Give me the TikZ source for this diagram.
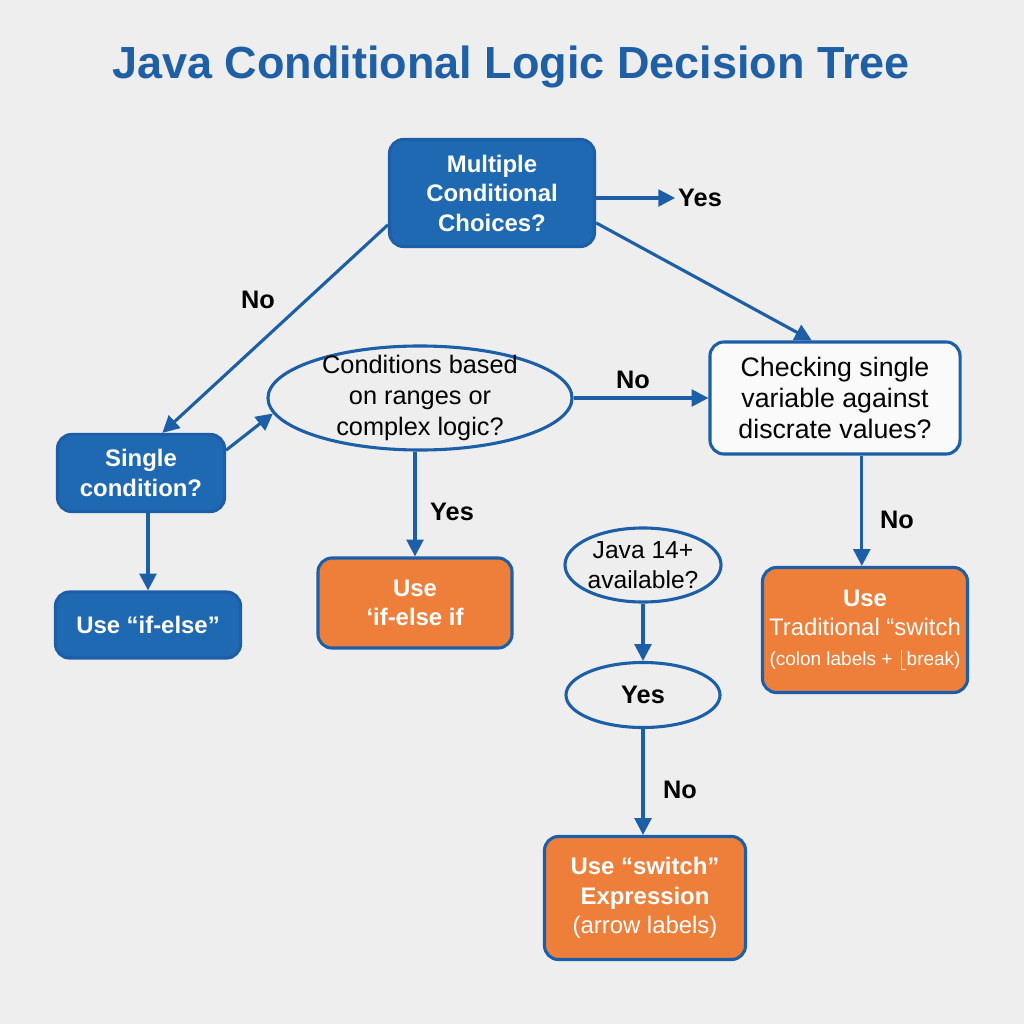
\documentclass[tikz,border=0pt]{standalone}
\usepackage{fontspec}
\setmainfont{Liberation Sans}
\usetikzlibrary{shapes.geometric,arrows.meta}

\definecolor{bggray}{HTML}{EEEEEE}
\definecolor{jblue}{HTML}{1F69B3}
\definecolor{jedge}{HTML}{1C5FA8}
\definecolor{jorange}{HTML}{EE7F3B}
\definecolor{jtitle}{HTML}{1E5FA6}

\begin{document}
\begin{tikzpicture}[x=0.025cm, y=-0.025cm,
    every node/.style={font=\fontsize{17}{21}\selectfont, align=center, inner sep=0pt},
    bluebox/.style={draw=jedge, line width=2.2pt, fill=jblue, rounded corners=0.35cm, text=white, font=\fontsize{17}{21}\selectfont\bfseries},
    orangebox/.style={bluebox, fill=jorange},
    whitebox/.style={draw=jedge, line width=2.2pt, fill=gray!4, rounded corners=0.35cm},
    oval/.style={ellipse, draw=jedge, line width=2.2pt, fill=bggray},
    arr/.style={draw=jedge, line width=2.2pt, -{Triangle[length=0.42cm, width=0.42cm]}},
    lbl/.style={font=\fontsize{18}{21}\selectfont\bfseries}]
    \fill[bggray] (0,0) rectangle (1024,1024);
    \useasboundingbox (0,0) rectangle (1024,1024);

    \node[font=\fontsize{32}{36}\selectfont\bfseries, text=jtitle] (title) at (511,67) {Java Conditional Logic Decision Tree};

    % question boxes
    \node[bluebox, minimum width=5.125cm, minimum height=2.675cm] (multi) at (492,193) {Multiple\\Conditional\\Choices?};
    \node[lbl] (yesA) at (700,198) {Yes};
    \node[bluebox, minimum width=4.175cm, minimum height=1.925cm] (single) at (141,473) {Single\\condition?};
    \node[oval, minimum width=7.6cm, minimum height=2.6cm] (ranges) at (420,398) {};
    \node[font=\fontsize{18}{22}\selectfont] (rangestxt) at (ranges) {Conditions based\\on ranges or\\complex logic?};
    \node[whitebox, minimum width=6.25cm, minimum height=2.8cm, font=\fontsize{19}{22}\selectfont] (discrete) at (835,398) {Checking single\\variable against\\discrate values?};
    \node[oval, minimum width=3.9cm, minimum height=1.85cm] (java) at (643,565) {};
    \node[font=\fontsize{17.5}{21}\selectfont] (javatxt) at (java) {Java 14+\\available?};
    \node[oval, minimum width=3.85cm, minimum height=1.625cm, font=\fontsize{18}{21}\selectfont\bfseries] (yesB) at (643,695) {Yes};

    % answers
    \node[bluebox, minimum width=4.625cm, minimum height=1.65cm] (ifelse) at (148,625) {Use “if-else”};
    \node[orangebox, minimum width=4.85cm, minimum height=2.25cm] (elseif) at (415,603) {Use\\‘if-else if};
    \node[orangebox, minimum width=5.025cm, minimum height=3.075cm] (switchexpr) at (645,898) {Use “switch”\\Expression\\{\mdseries (arrow labels)}};
    \node[orangebox, minimum width=5.125cm, minimum height=3.125cm] (trad) at (865,630) {Use\\{\mdseries Traditional “switch}\\{\mdseries\fontsize{13.5}{21}\selectfont (colon labels + $\lfloor$break)}};

    % connectors
    \draw[arr, shorten >=2pt] (multi.east |- yesA) -- (yesA.west);
    \draw[arr] (multi.-16) -- (discrete.112);
    \draw[arr] (multi.-163) -- (single.62);
    \draw[arr] (single.15) -- (ranges.186);
    \draw[arr] (ranges.east) -- (discrete.west);
    \draw[arr] (elseif.north |- ranges.south) -- (elseif.north);
    \draw[arr] (ifelse.north |- single.south) -- (ifelse.north);
    \draw[arr] (java.south) -- (yesB.north);
    \draw[arr] (yesB.south) -- (yesB.south |- switchexpr.north);
    \draw[arr] ([xshift=-0.08cm]trad.north |- discrete.south) -- ([xshift=-0.08cm]trad.north);

    \node[lbl] (noA) at (258,300) {No};
    \node[lbl] (noB) at (633,380) {No};
    \node[lbl] (yesC) at (452,512) {Yes};
    \node[lbl] (noC) at (680,790) {No};
    \node[lbl] (noD) at (897,520) {No};
\end{tikzpicture}
\end{document}
